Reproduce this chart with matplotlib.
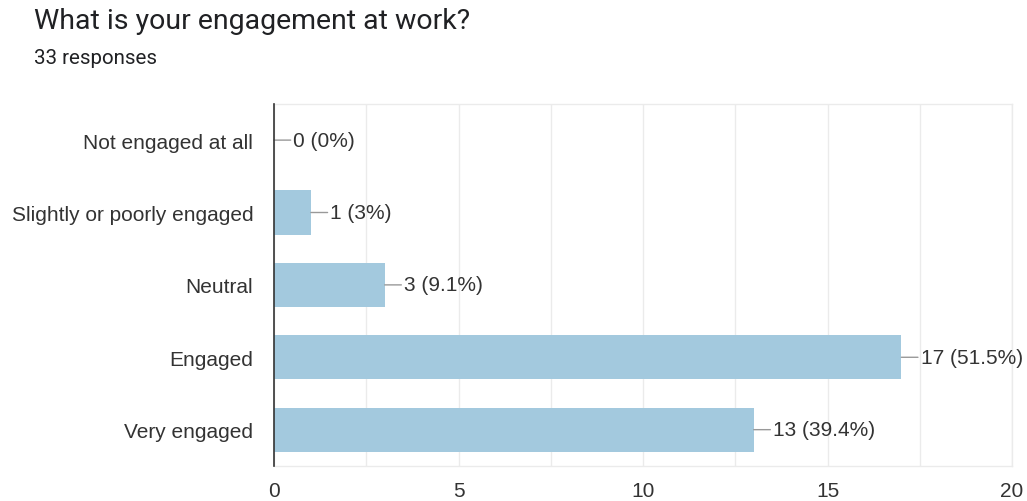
import matplotlib
matplotlib.use("Agg")
import matplotlib.pyplot as plt
import numpy as np

categories = ["Not engaged at all", "Slightly or poorly engaged", "Neutral",
              "Engaged", "Very engaged"]
counts = [0, 1, 3, 17, 13]
total = 33
pct_labels = ["0%", "3%", "9.1%", "51.5%", "39.4%"]

BAR = "#a3c9de"
TEXT = "#333333"
GRID = "#ebebeb"
LEADER = "#999999"

fig = plt.figure(figsize=(10.27, 5.02), dpi=100)
ax = fig.add_axes([0.2668, 0.070, 0.7186, 0.721])

y = np.arange(len(categories))
ax.barh(y, counts, height=0.61, color=BAR, zorder=2)
ax.set_ylim(len(categories) - 0.5, -0.5)
ax.set_xlim(0, 20)

ax.set_xticks([0, 5, 10, 15, 20])
ax.set_xticks(np.arange(0, 20.1, 2.5), minor=True)
ax.grid(True, axis="x", which="both", color=GRID, linewidth=1.0, zorder=0)
ax.tick_params(axis="x", which="both", length=0, pad=11, labelsize=15,
               labelcolor=TEXT)
ax.tick_params(axis="y", length=0, pad=15, labelsize=15, labelcolor=TEXT)
ax.set_yticks(y)
ax.set_yticklabels(categories, family="Liberation Sans")
for lab in ax.get_xticklabels():
    lab.set_family("Liberation Sans")

for side in ("top", "right", "bottom"):
    ax.spines[side].set_color(GRID)
    ax.spines[side].set_linewidth(1.0)
ax.spines["left"].set_color("#333333")
ax.spines["left"].set_linewidth(1.2)
ax.spines["left"].set_zorder(3)

# value labels with a short leader line off the bar end
for yi, c, p in zip(y, counts, pct_labels):
    ax.annotate(f"{c} ({p})", xy=(c, yi), xytext=(14, 0),
                textcoords="offset points", va="center", ha="left",
                fontsize=15, color=TEXT, family="Liberation Sans",
                arrowprops=dict(arrowstyle="-", color=LEADER, lw=1.0,
                                shrinkA=0, shrinkB=0))

fig.text(0.033, 0.958, "What is your engagement at work?", fontsize=20.5,
         color="#202124", family="Roboto", va="center", ha="left")
fig.text(0.033, 0.883, f"{total} responses", fontsize=14.8, color="#202124",
         family="Roboto", va="center", ha="left")

fig.savefig("out.png", dpi=100)
